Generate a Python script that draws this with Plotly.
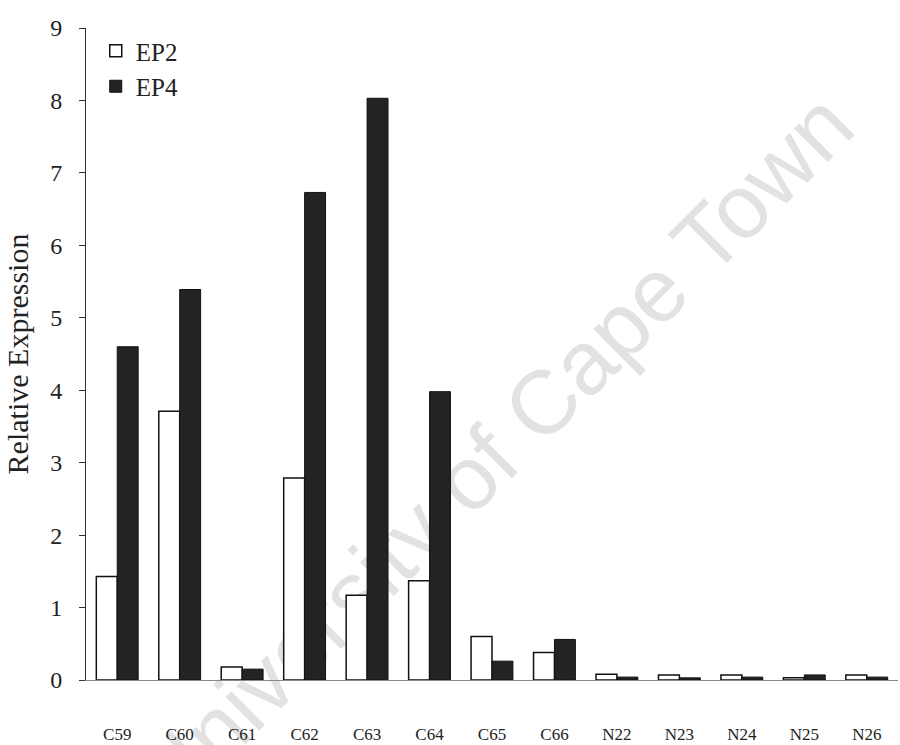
import plotly.graph_objects as go

categories = ["C59", "C60", "C61", "C62", "C63", "C64", "C65", "C66",
              "N22", "N23", "N24", "N25", "N26"]
ep2 = [1.43, 3.71, 0.18, 2.79, 1.17, 1.37, 0.60, 0.38, 0.08, 0.07, 0.07, 0.03, 0.07]
ep4 = [4.60, 5.39, 0.15, 6.73, 8.03, 3.98, 0.26, 0.56, 0.04, 0.03, 0.04, 0.07, 0.04]
y_ticks = [0, 1, 2, 3, 4, 5, 6, 7, 8, 9]
watermark = "University of Cape Town"

serif = "Liberation Serif, Times New Roman, serif"

fig = go.Figure()
fig.add_trace(go.Bar(x=categories, y=ep2, name="EP2",
                     marker=dict(color="white", line=dict(color="#111", width=1.5))))
fig.add_trace(go.Bar(x=categories, y=ep4, name="EP4",
                     marker=dict(color="#232323", line=dict(color="#111", width=1))))

# faint watermark, drawn beneath the bars
fig.add_shape(type="line", xref="paper", yref="paper", layer="below",
              x0=-0.04, y0=-0.21, x1=1.03, y1=0.93,
              line=dict(width=0, color="rgba(0,0,0,0)"),
              label=dict(text=watermark, textangle=-45, textposition="middle",
                         xanchor="center", yanchor="middle",
                         font=dict(family="Liberation Sans, Arial, sans-serif",
                                   size=90, color="#e2e2e2")))

fig.update_layout(
    width=900, height=745,
    margin=dict(l=86, r=2, t=28, b=65),
    paper_bgcolor="white", plot_bgcolor="rgba(0,0,0,0)",
    barmode="group", bargap=0.33, bargroupgap=0,
    font=dict(family=serif, color="#111"),
    showlegend=True,
    legend=dict(x=0.012, y=1.0, xanchor="left", yanchor="top",
                font=dict(family=serif, size=25, color="#222"),
                bgcolor="rgba(0,0,0,0)"),
    xaxis=dict(showline=True, linecolor="#888", linewidth=1, ticks="",
               tickfont=dict(family=serif, size=17, color="#222"),
               ticklabelstandoff=39, range=[-0.5, 12.5], automargin=False),
    yaxis=dict(range=[0, 9], tickvals=y_ticks, showgrid=False, zeroline=False,
               showline=True, linecolor="#333", linewidth=1,
               ticks="outside", ticklen=6, tickcolor="#333",
               tickfont=dict(family=serif, size=24, color="#222"),
               ticklabelstandoff=12, automargin=False,
               title=dict(text="Relative Expression", standoff=12,
                          font=dict(family=serif, size=30, color="#222"))),
)

fig.write_html("out.html", config={"displayModeBar": False},
               post_script="document.body.style.margin='0';")
